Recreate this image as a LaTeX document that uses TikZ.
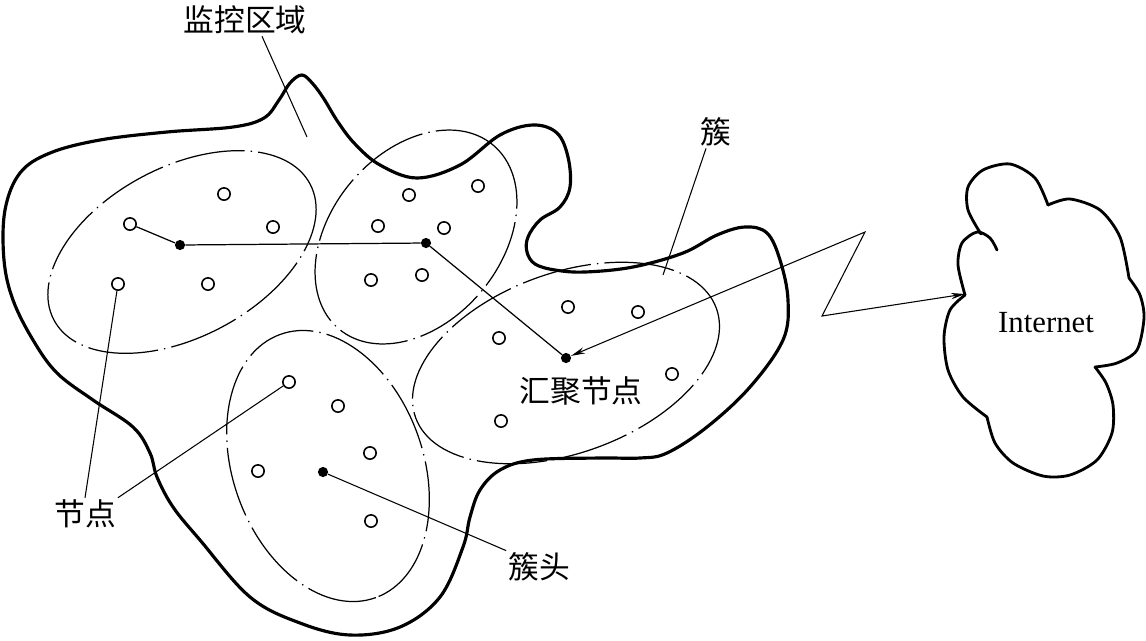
\documentclass[tikz,border=0pt]{standalone}
\usepackage{fontspec}
\setmainfont{Liberation Serif}
\newfontfamily\cjk{Noto Sans CJK SC}
\usetikzlibrary{arrows.meta}

\begin{document}
\begin{tikzpicture}[x=0.02cm,y=-0.02cm,
    >={Stealth[length=8pt,width=3.6pt,inset=2.6pt]},
    nodo/.style={circle,draw,line width=0.9pt,minimum size=7pt,inner sep=0pt},
    capo/.style={circle,fill,minimum size=5.8pt,inner sep=0pt},
    grappolo/.style={line width=0.7pt,dash pattern=on 40pt off 3.5pt on 0.8pt off 3.5pt},
    richiamo/.style={line width=0.6pt},
    etichetta/.style={font=\cjk\fontsize{17.5}{20}\selectfont,inner sep=1pt},
    confine/.style={line width=1.8pt,line join=round},
    nuvola/.style={line width=1.6pt,line cap=round}]
    \useasboundingbox (0,0) rectangle (1146,640);
    % --- contorno dell'area monitorata ----------------------------------
    \draw[confine] plot[smooth cycle,tension=0.6] coordinates {
        (302,75) (313,84) (324,99) (338,122) (355,144) (380,165) (417,178) (460,165)
        (500,135) (533,125) (557,133) (568,157) (570,187) (560,207) (540,220)
        (528,237) (527,252) (535,264) (555,270) (585,272) (633,267) (683,253)
        (717,235) (745,227) (767,233) (780,260) (788,300) (783,340) (750,387)
        (707,427) (667,453) (640,458) (600,458) (533,460) (500,470) (480,490)
        (470,517) (463,547) (440,597) (400,627) (350,635) (300,623) (250,597)
        (200,540) (173,507) (157,477) (150,453) (133,427) (93,400) (57,373)
        (33,340) (13,300) (4,260) (5,210) (20,173) (50,153) (100,140)
        (167,132) (233,127) (264,118) (279,100) (290,83)};
    % --- cluster ------------------------------------------------------------
    \draw[grappolo,rotate around={28:(182,252)}] (182,252) ellipse (145 and 85);
    \draw[grappolo,rotate around={50:(416,237)}] (416,237) ellipse (120 and 85);
    \draw[grappolo,rotate around={20:(566,363)}] (566,363) ellipse (160 and 90);
    \draw[grappolo,rotate around={-70:(328,466)}] (328,466) ellipse (140 and 95);
    % --- nodi sensori -------------------------------------------------------
    \foreach \nome/\pos in {a1/{224,194},a2/{273,227},a3/{130,224},a4/{118,284},
        a5/{208,284},b1/{409,195},b2/{478,186},b3/{378,226},b4/{444,228},
        b5/{371,280},b6/{422,275},c1/{568,307},c2/{638,312},c3/{499,338},
        c4/{672,374},c5/{501,421},d1/{289,382},d2/{338,406},d3/{370,453},
        d4/{258,471},d5/{371,521}}
        \node[nodo] (\nome) at (\pos) {};
    % --- capi cluster e nodo sink ------------------------------------------
    \node[capo] (ha) at (180,245) {};
    \node[capo] (hb) at (426,243) {};
    \node[capo] (hd) at (323,472) {};
    \node[capo] (sink) at (566,358) {};
    % --- collegamenti -------------------------------------------------------
    \draw[line width=0.7pt] (a3) -- (ha);
    \draw[line width=0.7pt] (ha) -- (hb);
    \draw[line width=0.7pt] (hb) -- (sink);
    % --- rete esterna -------------------------------------------------------
    \draw[nuvola] plot[smooth] coordinates {(965,295) (958,265) (962,243) (977,232) (990,238) (997,250)};
    \draw[nuvola] plot[smooth] coordinates {(981,234) (968,210) (968,187) (983,170) (1010,164) (1035,178) (1048,205)};
    \draw[nuvola] plot[smooth] coordinates {(1048,205) (1070,199) (1100,210) (1120,237) (1129,278)};
    \draw[nuvola] plot[smooth] coordinates {(1129,278) (1140,295) (1144,318) (1137,350) (1117,363) (1095,367)};
    \draw[nuvola] plot[smooth] coordinates {(1095,367) (1106,383) (1113,405) (1112,433) (1097,460) (1070,475) (1043,476) (1013,463) (995,443) (987,417)};
    \draw[nuvola] plot[smooth] coordinates {(987,417) (963,397) (948,370) (944,337) (950,310) (965,295)};
    \node (inet) at (1046,323) {\fontsize{17.5}{20}\selectfont Internet};
    % --- collegamento radio -------------------------------------------------
    \coordinate (zz1) at (865,232);
    \coordinate (zz2) at (822,316);
    \coordinate (ingresso) at (965,294);
    \draw[line width=0.6pt,<->] (sink) -- (zz1) -- (zz2) -- (ingresso);
    % --- etichette ----------------------------------------------------------
    \node[etichetta] (lmon) at (245,20) {监控区域};
    \node[etichetta] (lclu) at (716,132) {簇};
    \node[etichetta] (lnod) at (85,514) {节点};
    \node[etichetta] (lcap) at (539,567) {簇头};
    \node[etichetta] (lsink) at (581,391) {汇聚节点};
    \coordinate (pmon) at (307,137);
    \coordinate (pclu) at (663,275);
    \draw[richiamo] ([xshift=0.34cm]lmon.south) -- (pmon);
    \draw[richiamo] ([xshift=-0.2cm]lclu.south) -- (pclu);
    \draw[richiamo] (lnod.north) -- (a4);
    \draw[richiamo] (lnod.north east) -- (d1);
    \draw[richiamo] (lcap.north west) -- (hd);
\end{tikzpicture}
\end{document}
